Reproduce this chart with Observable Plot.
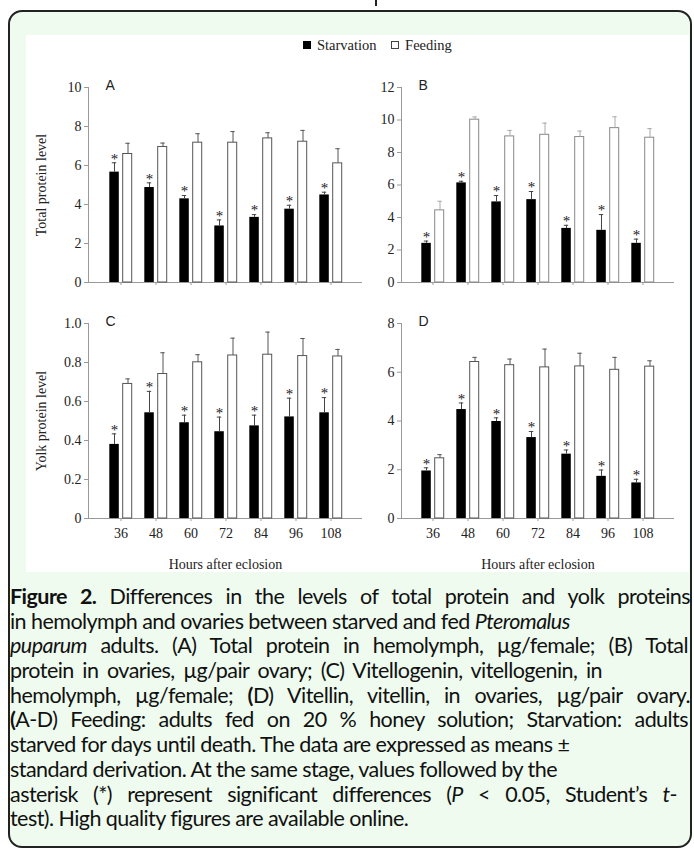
<!DOCTYPE html>
<html><head><meta charset="utf-8">
<script src="https://cdn.jsdelivr.net/npm/d3@7"></script>
<script src="https://cdn.jsdelivr.net/npm/@observablehq/plot@0.6"></script>
<style>
body{margin:0;width:694px;height:852px;position:relative;overflow:hidden;background:#fff;font-family:"Liberation Serif",serif;}
#topline{position:absolute;left:375px;top:0;width:2px;height:6px;background:#222;}
#box{position:absolute;left:8px;top:10px;width:680px;height:834px;border:2px solid #222;border-radius:14px;background:#eefbee;}
#fig{position:absolute;left:26px;top:35px;width:663px;height:537px;background:#fff;}
.panel{position:absolute;}
#legend{position:absolute;left:303px;top:37px;font-family:"Liberation Serif",serif;font-size:14.5px;color:#222;white-space:nowrap;}
#legend span.sw{display:inline-block;width:8px;height:8px;margin-right:6px;vertical-align:1px;box-sizing:border-box;}
#caption{position:absolute;left:10px;top:584px;font-family:"Lato",sans-serif;font-size:21.5px;letter-spacing:-0.55px;line-height:24.7px;color:#111;}
#caption .ln{white-space:nowrap;height:24.7px;}
#caption .j{text-align:justify;text-align-last:justify;}
</style></head>
<body>
<div id="topline"></div>
<div id="box"></div>
<div id="fig"></div>
<div id="legend"><span class="sw" style="background:#000"></span>Starvation&nbsp;&nbsp;&nbsp;&nbsp;<span class="sw" style="background:#fff;border:1px solid #444"></span>Feeding</div>
<div id="pA" class="panel" style="left:0;top:70px"></div>
<div id="pB" class="panel" style="left:366px;top:70px"></div>
<div id="pC" class="panel" style="left:0;top:306px"></div>
<div id="pD" class="panel" style="left:366px;top:306px"></div>
<div id="caption">
<div class="ln j" style="width:680px"><b>Figure 2.</b> Differences in the levels of total protein and yolk proteins</div>
<div class="ln">in hemolymph and ovaries between starved and fed <i>Pteromalus</i></div>
<div class="ln j" style="width:678px"><i>puparum</i> adults. (A) Total protein in hemolymph, µg/female; (B) Total</div>
<div class="ln j" style="width:592px">protein in ovaries, µg/pair ovary; (C) Vitellogenin, vitellogenin, in</div>
<div class="ln j" style="width:680px">hemolymph, µg/female; <b>(</b>D) Vitellin, vitellin, in ovaries, µg/pair ovary.</div>
<div class="ln j" style="width:678px"><b>(</b>A-D) Feeding: adults fed on 20 % honey solution; Starvation: adults</div>
<div class="ln">starved for days until death. The data are expressed as means ±</div>
<div class="ln">standard derivation. At the same stage, values followed by the</div>
<div class="ln j" style="width:667px">asterisk (*) represent significant differences (<i>P</i> &lt; 0.05, Student’s <i>t</i>-</div>
<div class="ln">test). High quality figures are available online.</div>
</div>
<script>
const hours = [36, 48, 60, 72, 84, 96, 108];
const series = ["Starvation", "Feeding"];

const A_starv = [5.66, 4.87, 4.29, 2.90, 3.34, 3.76, 4.49];
const A_starvErr = [0.48, 0.24, 0.17, 0.31, 0.14, 0.20, 0.14];
const A_feed = [6.59, 6.95, 7.17, 7.17, 7.39, 7.22, 6.11];
const A_feedErr = [0.55, 0.20, 0.46, 0.57, 0.29, 0.58, 0.75];

const B_starv = [2.41, 6.13, 4.96, 5.10, 3.33, 3.21, 2.41];
const B_starvErr = [0.14, 0.10, 0.39, 0.50, 0.19, 0.97, 0.26];
const B_feed = [4.44, 10.02, 8.99, 9.09, 8.95, 9.50, 8.91];
const B_feedErr = [0.56, 0.17, 0.37, 0.72, 0.37, 0.70, 0.56];

const C_starv = [0.380, 0.542, 0.491, 0.445, 0.475, 0.521, 0.542];
const C_starvErr = [0.054, 0.110, 0.039, 0.075, 0.055, 0.096, 0.078];
const C_feed = [0.690, 0.741, 0.801, 0.836, 0.840, 0.833, 0.831];
const C_feedErr = [0.026, 0.109, 0.039, 0.089, 0.116, 0.090, 0.036];

const D_starv = [1.95, 4.47, 3.98, 3.32, 2.64, 1.73, 1.46];
const D_starvErr = [0.13, 0.27, 0.15, 0.25, 0.17, 0.26, 0.15];
const D_feed = [2.47, 6.42, 6.29, 6.20, 6.24, 6.10, 6.23];
const D_feedErr = [0.15, 0.19, 0.25, 0.75, 0.54, 0.51, 0.24];

const ticksA = [0, 2, 4, 6, 8, 10];
const ticksB = [0, 2, 4, 6, 8, 10, 12];
const ticksC = [0, 0.2, 0.4, 0.6, 0.8, 1.0];
const ticksD = [0, 2, 4, 6, 8];

const xLabel = "Hours after eclosion";
const yLabelTop = "Total protein level";
const yLabelBottom = "Yolk protein level";

function rows(starv, starvErr, feed, feedErr) {
  const out = [];
  hours.forEach((h, i) => {
    out.push({hour: h, series: series[0], value: starv[i], err: starvErr[i]});
    out.push({hour: h, series: series[1], value: feed[i], err: feedErr[i]});
  });
  return out;
}

function panel(el, data, o) {
  const S = data.filter(d => d.series === "Starvation");
  const F = data.filter(d => d.series === "Feeding");
  const top = d => d.value + d.err;
  const marks = [
    Plot.frame({anchor: "left", stroke: "#999"}),
    Plot.ruleY([0], {stroke: "#999"}),
    Plot.barY(S, {x: "hour", y: "value", fill: "#000", insetLeft: 6.3, insetRight: 19.2}),
    Plot.barY(F, {x: "hour", y: "value", fill: "#fff", stroke: o.feedStroke, strokeWidth: 1, insetLeft: 19.7, insetRight: 6.3}),
    Plot.ruleX(S, {x: "hour", y1: "value", y2: top, dx: -6.5, stroke: "#444"}),
    Plot.tickY(S, {x: "hour", y: top, stroke: "#444", insetLeft: 8.8, insetRight: 21.8}),
    Plot.ruleX(F, {x: "hour", y1: "value", y2: top, dx: 7, stroke: o.errStroke}),
    Plot.tickY(F, {x: "hour", y: top, stroke: o.errStroke, insetLeft: 22.3, insetRight: 8.3}),
    Plot.text(S, {x: "hour", y: top, text: () => "*", dx: -6.5, dy: -4, fontSize: 15, fill: "#222"}),
    Plot.text([o.letter], {frameAnchor: "top-left", text: d => d, dx: 17, dy: -7, fontSize: 14, fontFamily: "Liberation Sans, sans-serif", fill: "#222"}),
    Plot.axisY({ticks: o.yTicks, tickFormat: o.yFmt, tickSize: 4, tickPadding: 3, stroke: "#999", fill: "#222", fontSize: 14,
      label: o.yLabel, labelAnchor: "center", labelOffset: 52, labelArrow: "none"}),
    Plot.axisX({tickSize: 3, stroke: "#999", tickFormat: o.xTickLabels ? d => String(d) : () => "", fontSize: 14,
      tickPadding: 7, label: o.xLabel, labelAnchor: "center", labelOffset: 50, labelArrow: "none"})
  ];
  const chart = Plot.plot({
    width: o.width, height: o.height,
    marginLeft: o.ml, marginRight: o.mr, marginTop: 17, marginBottom: o.mb,
    style: {fontFamily: "Liberation Serif, serif", fontSize: "13px", color: "#222", background: "transparent", overflow: "visible"},
    x: {type: "band", domain: hours, paddingInner: 0, paddingOuter: 0.36, align: 0.5, axis: null},
    y: {domain: o.yDomain, axis: null},
    marks
  });
  document.getElementById(el).appendChild(chart);
}

const fmtInt = d => String(d);
const fmtC = d => d === 0 ? "0" : d.toFixed(1);

panel("pA", rows(A_starv, A_starvErr, A_feed, A_feedErr), {width: 366, height: 222, ml: 88, mr: 4, mb: 10,
  yDomain: [0, 10], yTicks: ticksA, yFmt: fmtInt, letter: "A", yLabel: yLabelTop, xLabel: null, xTickLabels: false,
  feedStroke: "#555", errStroke: "#555"});
panel("pB", rows(B_starv, B_starvErr, B_feed, B_feedErr), {width: 328, height: 222, ml: 35, mr: 20, mb: 10,
  yDomain: [0, 12], yTicks: ticksB, yFmt: fmtInt, letter: "B", yLabel: null, xLabel: null, xTickLabels: false,
  feedStroke: "#888", errStroke: "#aaa"});
panel("pC", rows(C_starv, C_starvErr, C_feed, C_feedErr), {width: 366, height: 266, ml: 88, mr: 4, mb: 54,
  yDomain: [0, 1], yTicks: ticksC, yFmt: fmtC, letter: "C", yLabel: yLabelBottom, xLabel: xLabel, xTickLabels: true,
  feedStroke: "#555", errStroke: "#555"});
panel("pD", rows(D_starv, D_starvErr, D_feed, D_feedErr), {width: 328, height: 266, ml: 35, mr: 20, mb: 54,
  yDomain: [0, 8], yTicks: ticksD, yFmt: fmtInt, letter: "D", yLabel: null, xLabel: xLabel, xTickLabels: true,
  feedStroke: "#555", errStroke: "#555"});
</script>
</body></html>
